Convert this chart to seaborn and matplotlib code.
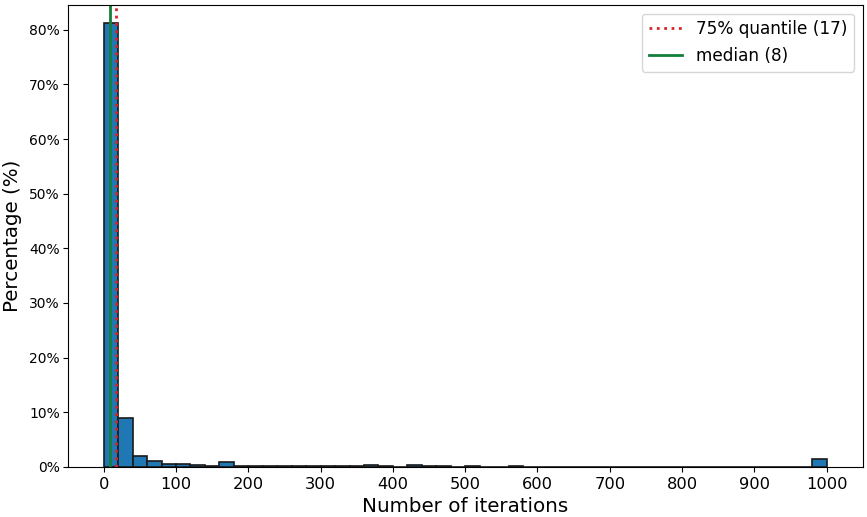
import numpy as np
import pandas as pd
import matplotlib
matplotlib.use("Agg")
import matplotlib.pyplot as plt
from matplotlib.ticker import PercentFormatter
import seaborn as sns

# histogram bins of width 20 over 0..1000, share of runs in each bin (%)
bin_edges = list(range(0, 1001, 20))
bin_share = [81.2, 9.0, 2.0, 1.0, 0.6, 0.5, 0.3, 0.2, 0.85, 0.15,
             0.1, 0.1, 0.15, 0.15, 0.1, 0.2, 0.1, 0.2, 0.3, 0.1,
             0.05, 0.4, 0.2, 0.2, 0.05, 0.1, 0.05, 0.05, 0.1, 0.05,
             0.05, 0.05, 0.05, 0.05, 0.05, 0.05, 0.05, 0.05, 0.05, 0.05,
             0.05, 0.05, 0.05, 0.05, 0.05, 0.05, 0.05, 0.05, 0.05, 1.5]
median_val = 8
q75_val = 17

df = pd.DataFrame({
    "iterations": [e + 10 for e in bin_edges[:-1]],
    "share": bin_share,
})

plt.rcParams["font.family"] = ["DejaVu Sans"]

fig, ax = plt.subplots(figsize=(8.67, 5.17), dpi=100)
sns.histplot(data=df, x="iterations", weights="share", bins=bin_edges,
             color="#1f77b4", edgecolor="#1a1a1a", linewidth=1.2, alpha=1, ax=ax)

ax.axvline(q75_val, color="#d62728", linestyle=":", linewidth=2, label=f"75% quantile ({q75_val})")
ax.axvline(median_val, color="#137f3a", linestyle="-", linewidth=2, label=f"median ({median_val})")

ax.yaxis.set_major_formatter(PercentFormatter(decimals=0))
ax.set_xticks(range(0, 1001, 100))
ax.set_xlim(-50, 1050)
ax.set_ylim(0, 84.5)
ax.set_xlabel("Number of iterations", fontsize=14.3)
ax.set_ylabel("Percentage (%)", fontsize=14.3)
ax.tick_params(axis="x", labelsize=11.7, colors="black")
ax.tick_params(axis="y", labelsize=10, colors="black", pad=2)
ax.yaxis.set_label_coords(-0.058, 0.5)
ax.legend(loc="upper right", fontsize=12.2)

fig.subplots_adjust(left=0.078, right=0.995, top=0.99, bottom=0.097)
plt.savefig("out.png", dpi=100)
